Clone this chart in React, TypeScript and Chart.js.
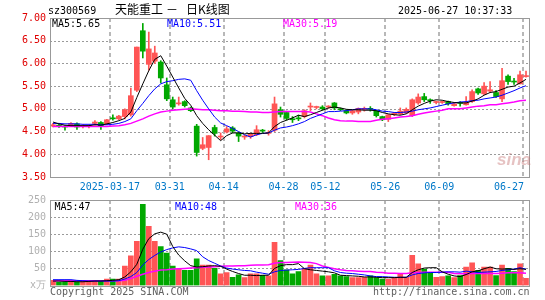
import { useEffect, useRef } from "react";
import { Chart, registerables } from "chart.js";

Chart.register(...registerables);

const DATES = [
  "2025-03-03","2025-03-04","2025-03-05","2025-03-06","2025-03-07","2025-03-10","2025-03-11","2025-03-12","2025-03-13","2025-03-14",
  "2025-03-17","2025-03-18","2025-03-19","2025-03-20","2025-03-21","2025-03-24","2025-03-25","2025-03-26","2025-03-27","2025-03-28",
  "2025-03-31","2025-04-01","2025-04-02","2025-04-03","2025-04-07","2025-04-08","2025-04-09","2025-04-10","2025-04-11","2025-04-14",
  "2025-04-15","2025-04-16","2025-04-17","2025-04-18","2025-04-21","2025-04-22","2025-04-23","2025-04-24","2025-04-25","2025-04-28",
  "2025-04-29","2025-04-30","2025-05-06","2025-05-07","2025-05-08","2025-05-09","2025-05-12","2025-05-13","2025-05-14","2025-05-15",
  "2025-05-16","2025-05-19","2025-05-20","2025-05-21","2025-05-22","2025-05-23","2025-05-26","2025-05-27","2025-05-28","2025-05-29",
  "2025-05-30","2025-06-03","2025-06-04","2025-06-05","2025-06-06","2025-06-09","2025-06-10","2025-06-11","2025-06-12","2025-06-13",
  "2025-06-16","2025-06-17","2025-06-18","2025-06-19","2025-06-20","2025-06-23","2025-06-24","2025-06-25","2025-06-26","2025-06-27",
];

const OPEN = [
  4.62,4.64,4.61,4.63,4.67,4.61,4.61,4.68,4.70,4.67,
  4.80,4.78,4.83,4.87,5.41,6.72,5.98,6.05,6.03,5.53,
  5.20,5.11,5.16,5.02,4.62,4.13,4.15,4.59,4.38,4.49,
  4.58,4.47,4.38,4.39,4.43,4.52,4.46,4.53,4.98,4.92,
  4.77,4.80,4.83,5.04,5.03,5.04,5.04,5.13,5.00,4.96,
  4.91,4.93,4.99,5.00,4.95,4.83,4.77,4.88,4.89,4.91,
  4.85,5.13,5.27,5.19,5.14,5.14,5.16,5.07,5.13,5.09,
  5.16,5.44,5.33,5.39,5.36,5.22,5.72,5.60,5.55,5.71,
];
const HIGH = [
  4.68,4.66,4.63,4.70,4.69,4.65,4.65,4.74,4.72,4.77,
  4.87,4.86,5.00,5.46,6.36,6.88,6.69,6.38,6.06,5.68,
  5.26,5.26,5.18,5.04,4.66,4.37,4.41,4.64,4.47,4.61,
  4.61,4.49,4.42,4.46,4.63,4.55,4.52,5.26,5.04,4.95,
  4.83,4.86,4.98,5.13,5.06,5.07,5.07,5.14,5.02,4.98,
  4.97,5.02,5.04,5.05,4.96,4.84,4.87,4.92,5.02,5.02,
  5.22,5.33,5.34,5.22,5.17,5.17,5.17,5.12,5.16,5.27,
  5.42,5.46,5.58,5.60,5.40,5.89,5.75,5.67,5.83,5.83,
];
const LOW = [
  4.60,4.59,4.53,4.61,4.55,4.58,4.58,4.64,4.55,4.65,
  4.75,4.76,4.78,4.84,5.38,6.12,5.85,6.00,5.57,5.18,
  4.99,5.08,5.04,4.94,3.96,4.10,3.88,4.40,4.32,4.47,
  4.47,4.28,4.33,4.35,4.41,4.48,4.42,4.50,4.82,4.75,
  4.70,4.74,4.80,4.96,5.00,4.97,5.01,4.98,4.96,4.89,
  4.88,4.89,4.95,4.95,4.82,4.74,4.72,4.85,4.87,4.90,
  4.83,5.10,5.16,5.12,5.11,5.12,5.08,5.06,5.06,5.08,
  5.14,5.32,5.31,5.36,5.25,5.16,5.54,5.54,5.55,5.70,
];
const CLOSE = [
  4.65,4.62,4.60,4.68,4.60,4.63,4.63,4.71,4.61,4.76,
  4.78,4.84,4.98,5.29,6.36,6.27,6.32,6.23,5.68,5.22,
  5.04,5.12,5.07,4.96,4.04,4.21,4.41,4.46,4.40,4.56,
  4.51,4.40,4.39,4.44,4.54,4.51,4.47,5.11,4.88,4.79,
  4.76,4.78,4.96,5.06,5.05,5.00,5.05,5.02,4.98,4.91,
  4.96,5.01,5.00,4.99,4.85,4.76,4.87,4.89,4.95,4.99,
  5.20,5.26,5.20,5.18,5.15,5.15,5.11,5.11,5.12,5.14,
  5.38,5.35,5.50,5.42,5.27,5.62,5.60,5.59,5.75,5.72,
];

const PRICE_MA5 = [
  4.71,4.67,4.64,4.63,4.63,4.63,4.63,4.65,4.64,4.67,
  4.70,4.74,4.79,4.93,5.25,5.55,5.84,6.09,6.17,5.94,
  5.70,5.46,5.23,5.08,4.85,4.68,4.54,4.42,4.30,4.41,
  4.47,4.47,4.45,4.46,4.46,4.46,4.47,4.61,4.70,4.75,
  4.80,4.86,4.83,4.87,4.92,4.97,5.02,5.04,5.02,4.99,
  4.98,4.98,4.97,4.97,4.96,4.92,4.89,4.87,4.86,4.89,
  4.98,5.06,5.12,5.17,5.20,5.19,5.16,5.14,5.13,5.13,
  5.17,5.22,5.30,5.36,5.38,5.43,5.48,5.50,5.57,5.65,
];
const PRICE_MA10 = [
  4.68,4.68,4.67,4.67,4.67,4.66,4.66,4.66,4.65,4.65,
  4.66,4.68,4.72,4.78,4.96,5.12,5.29,5.44,5.55,5.60,
  5.62,5.65,5.66,5.63,5.40,5.19,5.00,4.82,4.69,4.63,
  4.57,4.50,4.43,4.38,4.43,4.46,4.47,4.53,4.58,4.60,
  4.63,4.67,4.72,4.79,4.84,4.89,4.94,4.94,4.95,4.96,
  4.98,5.00,5.00,5.00,4.98,4.95,4.94,4.92,4.92,4.93,
  4.95,4.98,5.00,5.02,5.05,5.08,5.11,5.13,5.15,5.16,
  5.18,5.19,5.22,5.24,5.26,5.30,5.35,5.40,5.46,5.51,
];
const PRICE_MA30 = [
  4.61,4.61,4.61,4.61,4.61,4.61,4.61,4.61,4.61,4.61,
  4.62,4.63,4.65,4.68,4.73,4.78,4.84,4.89,4.93,4.95,
  4.97,4.98,4.99,5.00,4.99,4.98,4.98,4.97,4.96,4.96,
  4.95,4.95,4.94,4.93,4.93,4.92,4.92,4.93,4.94,4.94,
  4.94,4.94,4.94,4.93,4.89,4.85,4.80,4.76,4.74,4.73,
  4.73,4.72,4.72,4.72,4.75,4.77,4.78,4.80,4.82,4.83,
  4.85,4.88,4.91,4.93,4.95,4.97,5.00,5.00,5.00,5.02,
  5.04,5.06,5.07,5.09,5.09,5.11,5.13,5.15,5.18,5.19,
];

const VOLUME = [
  15,9,9,13,11,13,13,13,13,19,
  19,19,57,87,129,237,173,129,114,95,
  57,49,44,44,78,60,60,50,34,38,
  24,31,23,34,34,30,28,126,73,46,
  34,41,49,60,34,28,28,33,28,26,
  23,23,24,28,23,19,19,24,33,24,
  88,63,48,38,24,26,28,23,29,54,
  66,44,54,54,29,60,50,41,63,21,
];
const VOL_MA5 = [
  13,13,12,12,11,11,12,13,13,14,
  15,17,25,40,62,106,137,151,156,150,
  114,89,72,58,54,55,57,58,56,48,
  41,35,30,30,29,30,30,50,58,61,
  61,64,49,46,44,42,40,37,30,29,
  28,27,25,25,24,23,23,23,24,24,
  38,46,51,52,52,40,33,28,26,32,
  40,43,49,54,49,48,49,47,49,47,
];
const VOL_MA10 = [
  17,17,17,17,15,14,13,13,13,13,
  13,14,19,26,38,60,76,88,98,105,
  110,113,111,107,102,84,73,65,57,51,
  48,46,44,43,39,36,33,40,44,45,
  46,47,50,52,52,52,52,43,38,36,
  35,33,31,28,26,26,25,24,24,24,
  31,35,37,38,38,39,40,40,39,42,
  40,38,39,40,41,44,46,48,52,48,
];
const VOL_MA30 = [
  14,14,14,14,14,14,14,14,14,14,
  14,14,15,20,27,33,38,42,45,46,
  48,49,50,51,52,53,54,55,56,57,
  57,58,58,59,60,60,61,65,67,67,
  68,69,68,67,64,57,53,49,46,44,
  43,42,41,41,39,38,36,36,35,35,
  37,38,39,39,39,39,39,35,34,34,
  35,35,35,35,35,36,37,37,37,36,
];

const TICK_DATES = ["2025-03-17","2025-03-31","2025-04-14","2025-04-28","2025-05-12","2025-05-26","2025-06-09","2025-06-27"];
const TICK_TEXT = ["2025-03-17","03-31","04-14","04-28","05-12","05-26","06-09","06-27"];

const UP = "#ff5555";
const DOWN = "#00a800";
const MONO = "'DejaVu Sans Mono', monospace";
const CJK = "'Noto Sans CJK SC', sans-serif";

function gridPlugin(withLabels: boolean) {
  return {
    id: withLabels ? "sinaGridPrice" : "sinaGridVol",
    beforeDatasetsDraw(chart: any) {
      const { ctx, chartArea: a } = chart;
      const x = chart.scales.x;
      const y = chart.scales.y;
      const half = (x.getPixelForValue(1) - x.getPixelForValue(0)) / 2;
      ctx.save();
      // horizontal dotted grid
      ctx.strokeStyle = "#9a9a9a";
      ctx.lineWidth = 1;
      ctx.setLineDash([2, 2]);
      y.ticks.forEach((t: any) => {
        if (t.value <= y.min || t.value >= y.max) return;
        const py = Math.round(y.getPixelForValue(t.value)) + 0.5;
        ctx.beginPath();
        ctx.moveTo(a.left, py);
        ctx.lineTo(a.right, py);
        ctx.stroke();
      });
      // vertical dashed grid
      ctx.strokeStyle = "#b8b8b8";
      ctx.lineWidth = 2;
      ctx.setLineDash([4, 3]);
      TICK_DATES.forEach((d) => {
        const i = DATES.indexOf(d);
        const px = Math.round(x.getPixelForValue(i) - half);
        ctx.beginPath();
        ctx.moveTo(px, a.top);
        ctx.lineTo(px, a.bottom);
        ctx.stroke();
      });
      ctx.restore();
    },
    afterDraw(chart: any) {
      const { ctx, chartArea: a } = chart;
      const x = chart.scales.x;
      const half = (x.getPixelForValue(1) - x.getPixelForValue(0)) / 2;
      ctx.save();
      ctx.strokeStyle = "#999999";
      ctx.lineWidth = 1;
      ctx.setLineDash([]);
      ctx.strokeRect(Math.round(a.left) + 0.5, Math.round(a.top) + 0.5, Math.round(a.width), Math.round(a.height));
      if (withLabels) {
        ctx.fillStyle = "#0078c8";
        ctx.font = `10px ${MONO}`;
        ctx.textBaseline = "alphabetic";
        TICK_DATES.forEach((d, k) => {
          const i = DATES.indexOf(d);
          const px = x.getPixelForValue(i) - half;
          const last = k === TICK_DATES.length - 1;
          ctx.textAlign = last ? "right" : "center";
          ctx.fillText(TICK_TEXT[k], px + (last ? 1 : 0), a.bottom + 12.5);
        });
      }
      ctx.restore();
    },
  };
}

const lineDs = (data: number[], color: string, width = 1) => ({
  type: "line" as const,
  data,
  borderColor: color,
  borderWidth: width,
  pointRadius: 0,
  fill: false,
  tension: 0,
  order: 0,
});

export default function App() {
  const priceRef = useRef<HTMLCanvasElement>(null);
  const volRef = useRef<HTMLCanvasElement>(null);

  useEffect(() => {
    const colors = CLOSE.map((c, i) => (c >= OPEN[i] ? UP : DOWN));
    const bodies = OPEN.map((o, i) => [o, CLOSE[i]]);
    const wicks = LOW.map((l, i) => [l, HIGH[i]]);

    const price = new Chart(priceRef.current as HTMLCanvasElement, {
      type: "bar",
      data: {
        labels: DATES,
        datasets: [
          lineDs(PRICE_MA5, "#000000"),
          lineDs(PRICE_MA10, "#0000ff"),
          lineDs(PRICE_MA30, "#ff00ff", 1.5),
          { type: "bar", data: bodies as any, backgroundColor: colors, barThickness: 5, grouped: false, minBarLength: 1, order: 1 },
          { type: "bar", data: wicks as any, backgroundColor: colors, barThickness: 1, grouped: false, order: 2 },
        ] as any,
      },
      options: {
        responsive: false,
        animation: false,
        events: [],
        layout: { padding: { left: 0, right: 16, top: 18, bottom: 18 } },
        plugins: { legend: { display: false }, tooltip: { enabled: false } },
        scales: {
          x: { type: "category", display: false, offset: true, grid: { display: false } },
          y: {
            min: 3.5,
            max: 7,
            afterFit: (s: any) => { s.width = 50; },
            ticks: { stepSize: 0.5, callback: (v: any) => Number(v).toFixed(2), color: "#e00000", font: { family: MONO, size: 10 }, padding: 4 },
            grid: { display: false, drawTicks: false },
            border: { display: false },
          },
        },
      } as any,
      plugins: [gridPlugin(true)],
    });

    const vol = new Chart(volRef.current as HTMLCanvasElement, {
      type: "bar",
      data: {
        labels: DATES,
        datasets: [
          lineDs(VOL_MA5, "#000000"),
          lineDs(VOL_MA10, "#0000ff"),
          lineDs(VOL_MA30, "#ff00ff", 1.5),
          { type: "bar", data: VOLUME, backgroundColor: colors, barThickness: 5, order: 1 },
        ] as any,
      },
      options: {
        responsive: false,
        animation: false,
        events: [],
        layout: { padding: { left: 0, right: 16, top: 10, bottom: 14.5 } },
        plugins: { legend: { display: false }, tooltip: { enabled: false } },
        scales: {
          x: { type: "category", display: false, offset: true, grid: { display: false } },
          y: {
            min: 0,
            max: 250,
            afterFit: (s: any) => { s.width = 50; },
            ticks: { stepSize: 50, callback: (v: any) => (Number(v) === 0 ? "x万" : String(v)), color: "#b0b0b0", font: { family: MONO, size: 10 }, padding: 4 },
            grid: { display: false, drawTicks: false },
            border: { display: false },
          },
        },
      } as any,
      plugins: [gridPlugin(false)],
    });

    return () => {
      price.destroy();
      vol.destroy();
    };
  }, []);

  const txt = (left: number, top: number, color: string, extra: any = {}) => ({
    position: "absolute" as const,
    left,
    top,
    color,
    font: `10px ${MONO}`,
    lineHeight: "10px",
    whiteSpace: "pre" as const,
    pointerEvents: "none" as const,
    ...extra,
  });

  return (
    <div style={{ position: "absolute", left: 0, top: 0, width: 545, height: 300, background: "#fff", overflow: "hidden" }}>
      <canvas ref={priceRef} width={545} height={195} style={{ position: "absolute", left: 0, top: 0, width: 545, height: 195 }} />
      <canvas ref={volRef} width={545} height={110} style={{ position: "absolute", left: 0, top: 190, width: 545, height: 110 }} />

      <div style={txt(48, 5.5, "#000")}>sz300569</div>
      <div style={txt(115, 3, "#000", { font: `12px ${CJK}`, lineHeight: "12px" })}>天能重工</div>
      <div style={txt(166, 3, "#000", { font: `12px ${CJK}`, lineHeight: "12px" })}>－</div>
      <div style={txt(186, 3, "#000", { font: `12px ${CJK}`, lineHeight: "12px" })}>日K线图</div>
      <div style={txt(398, 6.3, "#000")}>2025-06-27 10:37:33</div>

      <div style={txt(52, 19, "#000")}>MA5:5.65</div>
      <div style={txt(167, 19, "#0000ff")}>MA10:5.51</div>
      <div style={txt(283, 19, "#ff00ff")}>MA30:5.19</div>

      <div style={txt(54.5, 202, "#000")}>MA5:47</div>
      <div style={txt(175, 202, "#0000ff")}>MA10:48</div>
      <div style={txt(295, 202, "#ff00ff")}>MA30:36</div>

      <div style={txt(497, 151, "rgba(200,120,120,0.45)", { font: `italic bold 17px 'Liberation Sans', sans-serif`, lineHeight: "17px" })}>sina</div>

      <div style={txt(50, 286.5, "#606060")}>Copyright 2025 SINA.COM</div>
      <div style={txt(373, 287, "#606060")}>http://finance.sina.com.cn</div>
    </div>
  );
}
